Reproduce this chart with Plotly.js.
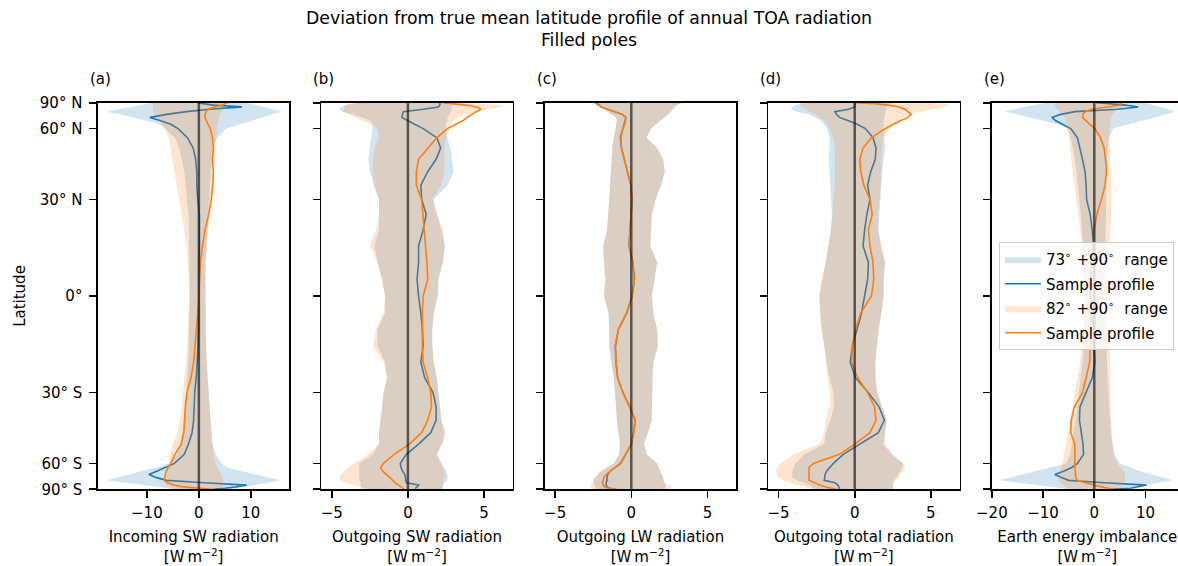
<!DOCTYPE html>
<html>
<head>
<meta charset="utf-8">
<script src="https://cdn.plot.ly/plotly-3.0.1.min.js"></script>
<style>
  html, body { margin: 0; padding: 0; overflow: hidden; background: #fff; }
  #chart { width: 1200px; height: 566px; }
</style>
</head>
<body>
<div id="chart"></div>
<script>
// Latitude nodes (degrees), south to north
const latitude = [
  -90, -87, -84, -81, -78, -75, -72.5, -70, -67.5, -65, -62.5, -60,
  -55, -50, -45, -40, -35, -30, -25, -20, -15, -10, -5, 0, 5, 10, 15, 20, 25, 30, 35, 40, 45, 50, 55,
  60, 62.5, 65, 67.5, 70, 72.5, 75, 78, 81, 84, 87, 90
];

const latTickValues = [-90, -60, -30, 0, 30, 60, 90];
const latTickLabels = ['90° S', '60° S', '30° S', '0°', '30° N', '60° N', '90° N'];

// (a) Incoming SW radiation
const incomingBlueLow = [
  -4.5, -5.0, -5.6, -7.8, -10.7, -14.7, -17.8, -15.8, -13.7, -11.2, -8.5, -5.5,
  -4.2, -3.6, -3.1, -2.8, -2.6, -2.4, -2.2, -2.0, -1.9, -1.9, -1.8, -1.8, -1.8, -1.8, -1.85, -1.9, -2.0, -2.3, -2.5, -2.8, -3.3, -3.8, -4.6,
  -6.5, -7.5, -10.0, -12.5, -15.3, -17.8, -15.5, -13.5, -12.0, -10.0, -9.5, -9.0
];
const incomingBlueHigh = [
  6.0, 6.5, 7.2, 8.7, 10.6, 13.4, 15.6, 13.3, 11.0, 8.3, 5.4, 4.4,
  3.3, 2.6, 2.4, 2.2, 2.0, 1.9, 1.7, 1.5, 1.4, 1.3, 1.3, 1.3, 1.3, 1.3, 1.4, 1.6, 1.8, 2.0, 2.1, 2.3, 2.5, 2.6, 3.5,
  5.3, 7.9, 10.2, 12.3, 14.2, 16.0, 14.3, 12.5, 11.0, 10.0, 9.5, 9.0
];
const incomingBlueSample = [
  2.8, 3.5, 5.0, 7.1, 9.2, 1.0, -6.2, -8.1, -9.6, -8.1, -6.5, -4.7,
  -2.8, -2.0, -1.3, -1.0, -0.9, -0.8, -0.5, -0.3, -0.15, -0.05, 0.0, 0.0, 0.05, 0.05, 0.1, 0.1, 0.1, -0.2, -0.4, -0.4, -0.6, -1.1, -2.2,
  -4.0, -5.3, -7.3, -9.4, -6.2, -2.4, 2.1, 8.3, 2.8, 0.2, 0.0, 0.0
];
const incomingOrangeLow = [
  -4.0, -4.5, -5.0, -5.7, -6.2, -6.4, -6.5, -6.5, -6.4, -6.2, -6.0, -5.8,
  -5.5, -5.0, -4.2, -3.6, -3.3, -3.1, -2.8, -2.5, -2.3, -2.1, -1.9, -1.8, -1.9, -2.1, -2.4, -2.8, -3.3, -3.8, -4.2, -4.6, -5.1, -5.4, -5.8,
  -6.5, -7.0, -7.5, -8.0, -8.5, -8.8, -8.8, -8.8, -8.8, -8.8, -8.8, -8.8
];
const incomingOrangeHigh = [
  3.5, 4.0, 4.4, 4.6, 4.8, 4.8, 4.7, 4.6, 4.4, 4.0, 3.6, 3.2,
  2.8, 2.6, 2.4, 2.2, 2.0, 1.9, 1.7, 1.5, 1.4, 1.3, 1.2, 1.2, 1.2, 1.3, 1.5, 1.8, 2.1, 2.5, 2.8, 2.9, 3.1, 3.2, 3.3,
  3.5, 3.6, 3.7, 3.9, 4.0, 4.3, 4.5, 4.8, 5.0, 5.2, 5.3, 5.3
];
const incomingOrangeSample = [
  2.5, 1.8, 0.2, -3.0, -4.8, -6.0, -6.7, -6.6, -6.5, -6.3, -5.9, -5.4,
  -4.6, -3.4, -2.9, -2.8, -2.6, -2.3, -1.5, -1.0, -0.7, -0.5, -0.2, 0.0, 0.1, 0.3, 0.7, 1.2, 1.9, 2.4, 2.7, 2.8, 2.6, 2.8, 2.6,
  2.2, 1.8, 1.4, 1.15, 1.2, 1.4, 1.8, 3.0, 4.5, 5.3, 5.5, 5.5
];

// (b) Outgoing SW radiation
const swBlueLow = [
  -3.1, -3.1, -3.1, -3.1, -3.1, -3.1, -3.2, -3.2, -3.2, -3.2, -3.2, -3.2,
  -2.3, -1.9, -1.9, -1.8, -1.7, -1.6, -1.35, -1.5, -2.0, -2.0, -1.5, -1.5, -1.7, -2.0, -2.2, -1.9, -1.9, -1.9, -2.2, -2.5, -2.6, -2.5, -2.4,
  -2.3, -2.3, -2.5, -3.0, -3.7, -4.3, -4.5, -4.4, -4.1, -3.7, -3.3, -3.0
];
const swBlueHigh = [
  2.3, 2.3, 2.3, 2.3, 2.3, 2.4, 2.6, 2.6, 2.6, 2.5, 2.4, 2.2,
  1.9, 2.2, 2.4, 2.2, 2.1, 2.0, 1.9, 1.7, 1.6, 1.6, 1.7, 2.0, 2.0, 2.3, 2.45, 2.2, 1.9, 1.7, 2.6, 3.0, 2.9, 2.8, 2.6,
  2.5, 2.5, 2.6, 2.6, 2.7, 2.8, 2.9, 2.9, 3.0, 3.0, 3.0, 3.0
];
const swBlueSample = [
  0.5, 0.5, 0.5, 0.6, 0.7, -0.1, -0.15, -0.15, -0.2, -0.35, -0.45, -0.5,
  -0.1, 0.7, 1.5, 1.85, 1.85, 1.65, 1.1, 0.85, 1.0, 0.95, 0.85, 0.7, 0.6, 0.7, 0.7, 1.0, 1.2, 0.9, 0.85, 1.3, 1.85, 2.15, 1.9,
  1.0, 0.45, 0.0, -0.4, -0.35, -0.3, 1.0, 2.0, 2.1, 2.1, 2.1, 2.1
];
const swOrangeLow = [
  -2.5, -2.6, -2.8, -3.1, -3.6, -4.1, -4.4, -4.5, -4.4, -4.2, -3.9, -3.5,
  -2.6, -1.9, -1.9, -1.8, -1.7, -1.6, -1.4, -1.6, -2.3, -2.1, -1.6, -1.5, -1.7, -2.0, -2.5, -2.1, -1.9, -1.9, -2.3, -2.3, -2.3, -2.2, -1.9,
  -2.0, -2.4, -3.0, -3.5, -3.9, -4.2, -4.2, -4.2, -4.1, -3.9, -3.6, -3.3
];
const swOrangeHigh = [
  2.2, 2.2, 2.3, 2.3, 2.3, 2.3, 2.3, 2.4, 2.4, 2.4, 2.3, 2.2,
  1.9, 2.3, 2.5, 2.2, 2.1, 2.0, 1.9, 1.7, 1.6, 1.6, 1.7, 1.9, 2.0, 2.3, 2.4, 2.3, 1.9, 1.6, 2.2, 2.4, 2.4, 2.4, 2.5,
  2.7, 2.8, 3.0, 3.3, 3.8, 4.5, 5.3, 6.3, 6.0, 5.0, 4.0, 3.0
];
const swOrangeSample = [
  -0.25, -0.3, -0.35, -0.45, -0.65, -0.85, -1.0, -1.2, -1.4, -1.65, -1.8, -1.6,
  -0.9, 0.1, 0.9, 1.3, 1.55, 1.5, 1.3, 1.0, 0.95, 0.95, 0.95, 1.0, 1.3, 1.25, 1.15, 1.05, 1.0, 0.9, 0.55, 0.55, 0.7, 1.3, 1.9,
  2.6, 3.1, 3.6, 3.9, 4.2, 4.5, 4.8, 4.5, 3.8, 3.0, 2.5, 2.3
];

// (c) Outgoing LW radiation
const lwBlueLow = [
  -2.3, -2.3, -2.3, -2.35, -2.4, -2.5, -2.5, -2.4, -2.2, -2.0, -1.6, -1.15,
  -0.8, -0.75, -0.85, -0.95, -1.0, -1.05, -1.15, -1.3, -1.45, -1.45, -1.5, -1.8, -1.7, -1.8, -1.85, -1.6, -1.5, -1.45, -1.4, -1.35, -1.3, -1.25, -1.15,
  -1.05, -1.0, -0.95, -1.0, -1.3, -1.6, -1.8, -2.0, -2.2, -2.35, -2.45, -2.5
];
const lwBlueHigh = [
  2.2, 2.2, 2.2, 2.25, 2.25, 2.2, 2.1, 2.1, 2.0, 1.9, 1.8, 1.7,
  1.0, 0.85, 1.1, 1.35, 1.35, 1.35, 1.4, 1.45, 1.75, 1.7, 1.45, 1.35, 1.55, 1.7, 1.25, 1.28, 1.35, 1.6, 1.95, 2.2, 2.1, 1.7, 1.0,
  1.3, 1.6, 1.9, 2.2, 2.4, 2.6, 2.75, 2.9, 3.0, 3.2, 3.3, 3.4
];
const lwBlueSample = [
  -1.0, -1.2, -1.45, -1.6, -1.65, -1.65, -1.6, -1.6, -1.55, -1.4, -1.07, -0.7,
  -0.37, 0.0, 0.15, 0.25, -0.1, -0.55, -0.9, -1.0, -1.05, -0.85, -0.3, 0.05, 0.2, 0.1, -0.15, -0.07, 0.02, 0.05, -0.03, -0.25, -0.5, -0.65, -0.72,
  -0.55, -0.44, -0.37, -0.35, -0.6, -1.07, -1.5, -2.0, -2.1, -2.2, -2.3, -2.35
];
const lwOrangeLow = [
  -2.7, -2.7, -2.7, -2.7, -2.65, -2.5, -2.5, -2.4, -2.2, -2.0, -1.6, -1.15,
  -0.8, -0.75, -0.85, -0.95, -1.0, -1.05, -1.15, -1.3, -1.45, -1.45, -1.5, -1.8, -1.7, -1.8, -1.85, -1.6, -1.5, -1.45, -1.4, -1.35, -1.3, -1.25, -1.15,
  -1.05, -1.0, -0.95, -1.0, -1.3, -1.6, -1.8, -2.0, -2.2, -2.35, -2.45, -2.5
];
const lwOrangeHigh = [
  2.6, 2.6, 2.6, 2.6, 2.4, 2.2, 2.1, 2.1, 2.0, 1.9, 1.8, 1.7,
  1.0, 0.85, 1.1, 1.35, 1.35, 1.35, 1.4, 1.45, 1.75, 1.7, 1.45, 1.35, 1.55, 1.7, 1.25, 1.28, 1.35, 1.6, 1.95, 2.2, 2.1, 1.7, 1.0,
  1.3, 1.6, 1.9, 2.2, 2.4, 2.6, 2.75, 2.9, 3.0, 3.2, 3.3, 3.4
];
const lwOrangeSample = [
  -0.95, -1.15, -1.5, -1.75, -1.85, -1.9, -1.87, -1.8, -1.65, -1.4, -1.07, -0.7,
  -0.37, 0.0, 0.15, 0.25, -0.1, -0.55, -0.9, -1.0, -1.05, -0.85, -0.3, 0.05, 0.2, 0.1, -0.15, -0.07, 0.02, 0.05, -0.03, -0.25, -0.5, -0.65, -0.68,
  -0.55, -0.44, -0.37, -0.35, -0.6, -1.07, -1.5, -2.0, -2.1, -2.2, -2.3, -2.35
];

// (d) Outgoing total radiation
const totalBlueLow = [
  -2.6, -2.6, -2.7, -2.8, -3.0, -3.4, -3.8, -4.1, -4.1, -4.1, -4.0, -3.9,
  -3.3, -2.0, -1.9, -1.6, -1.35, -1.4, -1.65, -1.85, -2.0, -2.15, -2.25, -2.3, -2.1, -1.9, -1.7, -1.55, -1.5, -1.55, -1.6, -1.65, -1.7, -1.65, -1.65,
  -1.8, -2.0, -2.2, -2.6, -3.0, -3.8, -4.2, -4.1, -3.9, -3.6, -3.3, -3.0
];
const totalBlueHigh = [
  2.5, 2.5, 2.5, 2.5, 2.5, 2.5, 2.6, 2.7, 2.85, 3.0, 3.1, 3.2,
  2.4, 1.9, 2.0, 2.1, 1.8, 1.45, 1.35, 1.35, 1.45, 1.55, 1.75, 1.9, 1.9, 2.0, 1.7, 1.55, 1.6, 1.7, 1.75, 1.8, 1.9, 2.0, 1.95,
  1.9, 1.9, 1.9, 1.95, 2.0, 2.0, 2.1, 2.1, 2.2, 2.3, 2.4, 2.5
];
const totalBlueSample = [
  -1.0, -1.0, -1.0, -1.05, -1.1, -1.3, -2.0, -1.97, -1.95, -1.85, -1.65, -1.4,
  -0.75, 0.35, 1.55, 1.95, 1.6, 0.9, 0.05, -0.3, -0.15, 0.15, 0.45, 0.65, 0.85, 0.9, 0.55, 0.65, 0.8, 1.0, 0.85, 1.05, 1.35, 1.4, 1.2,
  0.7, 0.2, -0.4, -1.0, -1.2, -1.3, -0.4, 0.0, 0.0, 0.0, 0.0, 0.0
];
const totalOrangeLow = [
  -2.7, -2.8, -3.0, -3.3, -3.8, -4.3, -4.7, -5.0, -5.1, -5.2, -5.1, -4.9,
  -4.0, -2.3, -2.0, -1.9, -1.65, -1.6, -1.8, -1.9, -2.0, -2.2, -2.3, -2.35, -2.2, -1.9, -1.75, -1.6, -1.45, -1.4, -1.3, -1.3, -1.3, -1.3, -1.4,
  -1.7, -1.8, -2.0, -2.3, -2.6, -3.0, -3.3, -3.5, -3.6, -3.6, -3.6, -3.5
];
const totalOrangeHigh = [
  2.5, 2.5, 2.5, 2.5, 2.6, 2.6, 2.7, 2.9, 3.0, 3.2, 3.3, 3.2,
  2.5, 2.0, 2.0, 2.1, 1.8, 1.5, 1.4, 1.35, 1.45, 1.6, 1.75, 1.9, 1.9, 2.0, 1.75, 1.55, 1.55, 1.65, 1.7, 1.75, 1.75, 1.8, 1.9,
  2.3, 2.6, 2.9, 3.2, 3.6, 4.3, 5.0, 6.0, 6.2, 5.8, 5.2, 4.5
];
const totalOrangeSample = [
  -1.2, -1.3, -1.5, -1.9, -2.3, -2.7, -3.0, -3.0, -3.0, -3.0, -3.0, -2.7,
  -1.0, 0.0, 1.0, 1.4, 1.3, 0.85, 0.2, -0.2, -0.15, 0.05, 0.4, 1.1, 1.25, 1.2, 1.0, 0.9, 1.15, 1.0, 0.6, 0.4, 0.33, 0.55, 1.1,
  2.0, 2.5, 3.0, 3.5, 3.7, 3.5, 3.3, 2.9, 2.2, 1.3, 0.5, 0.1
];

// (e) Earth energy imbalance
const imbalanceBlueLow = [
  -5.0, -5.5, -6.5, -8.0, -11.0, -15.0, -18.7, -16.5, -14.2, -11.5, -8.5, -5.5,
  -4.7, -4.4, -4.0, -3.7, -3.3, -3.0, -2.6, -2.3, -2.1, -2.0, -1.9, -1.8, -1.9, -2.0, -2.2, -2.4, -2.6, -2.9, -3.2, -3.5, -3.8, -4.2, -4.6,
  -5.2, -7.0, -10.0, -12.7, -15.0, -17.4, -15.5, -13.5, -12.0, -10.5, -10.0, -9.5
];
const imbalanceBlueHigh = [
  5.5, 6.0, 6.5, 7.5, 9.5, 12.5, 15.4, 13.5, 11.3, 9.0, 7.0, 5.0,
  3.9, 3.5, 3.2, 3.1, 3.0, 2.8, 2.6, 2.4, 2.3, 2.2, 2.1, 2.0, 2.0, 2.0, 2.1, 2.2, 2.3, 2.3, 2.3, 2.4, 2.5, 2.6, 2.8,
  3.7, 6.6, 9.5, 12.0, 14.0, 15.7, 14.5, 13.0, 11.5, 10.5, 10.0, 9.5
];
const imbalanceBlueSample = [
  3.0, 5.0, 7.1, 8.3, 10.2, 1.9, -5.0, -6.3, -7.7, -6.0, -4.4, -3.3,
  -2.1, -2.2, -2.6, -2.9, -2.8, -1.7, -0.4, 0.1, 0.0, -0.2, -0.5, -0.8, -0.85, -0.4, -0.2, -0.4, -0.8, -1.5, -1.6, -1.8, -2.3, -2.8, -3.3,
  -4.6, -6.0, -7.5, -8.3, -6.5, -3.8, 4.5, 8.6, 6.0, 3.0, 1.0, 0.3
];
const imbalanceOrangeLow = [
  -4.5, -4.8, -5.0, -5.5, -6.0, -6.6, -7.0, -7.0, -7.0, -6.8, -6.5, -6.2,
  -5.9, -5.5, -5.0, -4.6, -4.2, -3.8, -3.3, -2.8, -2.5, -2.2, -2.0, -1.8, -1.9, -2.1, -2.4, -2.8, -3.2, -3.6, -3.9, -4.2, -4.5, -4.7, -4.9,
  -5.1, -5.3, -5.5, -5.8, -6.2, -6.7, -7.2, -7.6, -7.8, -7.7, -7.5, -7.0
];
const imbalanceOrangeHigh = [
  5.0, 5.0, 5.0, 5.2, 5.5, 5.8, 6.0, 6.0, 6.0, 5.8, 5.2, 4.5,
  3.8, 3.6, 3.4, 3.3, 3.2, 3.1, 3.1, 3.1, 2.9, 2.7, 2.5, 2.4, 2.5, 2.7, 2.9, 3.1, 3.3, 3.4, 3.3, 3.2, 3.1, 3.1, 3.0,
  3.0, 3.1, 3.2, 3.3, 3.6, 4.0, 4.8, 5.5, 5.8, 5.6, 5.3, 5.0
];
const imbalanceOrangeSample = [
  3.7, 3.4, 2.8, 1.5, -0.2, -2.0, -3.4, -3.6, -3.7, -3.8, -3.8, -3.8,
  -3.8, -3.8, -4.6, -4.5, -3.9, -2.3, -1.6, -0.9, -0.8, -0.7, -0.6, -0.6, -0.5, -0.5, -0.3, 0.0, 0.5, 1.4, 2.1, 2.4, 2.2, 1.9, 1.2,
  0.1, -0.8, -1.6, -2.3, -2.2, -1.8, -0.5, 2.5, 5.0, 5.2, 5.3, 5.3
];

const panelTitles = ['Incoming SW radiation', 'Outgoing SW radiation', 'Outgoing LW radiation',
                     'Outgoing total radiation', 'Earth energy imbalance'];
const panelLetters = ['(a)', '(b)', '(c)', '(d)', '(e)'];
const unitLabel = '[W\u2009m<sup>\u22122</sup>]';
const rangeNames = ['73<sup>∘</sup> +90<sup>∘</sup>  range', '82<sup>∘</sup> +90<sup>∘</sup>  range'];
const sampleName = 'Sample profile';

const xTicks = [[-10, 0, 10], [-5, 0, 5], [-5, 0, 5], [-5, 0, 5], [-20, -10, 0, 10]];
const xRanges = [[-19.4, 17.4], [-5.68, 6.88], [-5.68, 6.88], [-5.68, 6.88], [-20.05, 17.3]];

const panels = [
  [incomingBlueLow, incomingBlueHigh, incomingBlueSample, incomingOrangeLow, incomingOrangeHigh, incomingOrangeSample],
  [swBlueLow, swBlueHigh, swBlueSample, swOrangeLow, swOrangeHigh, swOrangeSample],
  [lwBlueLow, lwBlueHigh, lwBlueSample, lwOrangeLow, lwOrangeHigh, lwOrangeSample],
  [totalBlueLow, totalBlueHigh, totalBlueSample, totalOrangeLow, totalOrangeHigh, totalOrangeSample],
  [imbalanceBlueLow, imbalanceBlueHigh, imbalanceBlueSample, imbalanceOrangeLow, imbalanceOrangeHigh, imbalanceOrangeSample]
];

// ---- drawing ----
const BLUE = '#1f77b4', ORANGE = '#ff7f0e';
const BLUE_FILL = 'rgba(31,119,180,0.2)', ORANGE_FILL = 'rgba(255,127,14,0.2)';
const FONT = 'DejaVu Sans, Verdana, sans-serif';
const FS = 15;

const toRad = Math.PI / 180;
const sinLat = latitude.map(l => Math.sin(l * toRad));
const sinLatLoop = sinLat.concat(sinLat.slice().reverse());

// page geometry in pixels
const W = 1200, H = 566;
const axLeft0 = 98, axStep = 223.4, axWidth = 191.3;
const axTop = 102.7, axBottom = 489.3;

const traces = [];
const layout = {
  width: W, height: H,
  margin: {l: 0, r: 0, t: 0, b: 0},
  paper_bgcolor: '#fff', plot_bgcolor: '#fff',
  font: {family: FONT, size: FS, color: '#000'},
  showlegend: true,
  title: {
    text: 'Deviation from true mean latitude profile of annual TOA radiation<br>Filled poles',
    x: 589 / W, xanchor: 'center', xref: 'paper',
    y: 1 - 24 / H, yanchor: 'top', yref: 'container',
    font: {family: FONT, size: 17.3, color: '#000'}
  },
  legend: {
    x: 999 / W, xanchor: 'left', y: 1 - 242 / H, yanchor: 'top',
    bgcolor: 'rgba(255,255,255,0.8)', bordercolor: '#cccccc', borderwidth: 1,
    font: {family: FONT, size: FS, color: '#000'},
    traceorder: 'grouped', tracegroupgap: 2, itemwidth: 36
  },
  shapes: [], annotations: []
};

panels.forEach((p, i) => {
  const n = i + 1;
  const xa = n === 1 ? 'x' : 'x' + n;
  const ya = n === 1 ? 'y' : 'y' + n;
  const last = i === panels.length - 1;
  const [bLo, bHi, bLine, oLo, oHi, oLine] = p;

  const band = (lo, hi, color, name, grp) => ({
    type: 'scatter', mode: 'lines', xaxis: xa, yaxis: ya,
    x: lo.concat(hi.slice().reverse()), y: sinLatLoop,
    fill: 'toself', fillcolor: color, line: {width: 0, color: color},
    name: name, legendgroup: grp, showlegend: last, hoverinfo: 'skip'
  });
  const profile = (vals, color, grp) => ({
    type: 'scatter', mode: 'lines', xaxis: xa, yaxis: ya,
    x: vals, y: sinLat, line: {color: color, width: 1.6},
    name: sampleName, legendgroup: grp, showlegend: last, hoverinfo: 'skip'
  });

  traces.push(band(bLo, bHi, BLUE_FILL, rangeNames[0], 'g1'));
  traces.push(profile(bLine, BLUE, 'g2'));
  traces.push(band(oLo, oHi, ORANGE_FILL, rangeNames[1], 'g3'));
  traces.push(profile(oLine, ORANGE, 'g4'));

  const left = axLeft0 + axStep * i;
  const axisKey = n === 1 ? 'xaxis' : 'xaxis' + n;
  const yKey = n === 1 ? 'yaxis' : 'yaxis' + n;

  layout[axisKey] = {
    domain: [left / W, (left + axWidth) / W],
    anchor: ya, range: xRanges[i],
    tickvals: xTicks[i],
    ticktext: xTicks[i].map(v => (v < 0 ? '\u2212' + Math.abs(v) : String(v))),
    ticks: 'outside', ticklen: 7, tickwidth: 1.6, tickcolor: '#000',
    ticklabelstandoff: 2,
    showline: true, mirror: true, linecolor: '#000', linewidth: 1.6,
    showgrid: false, zeroline: false, automargin: false,
    tickfont: {family: FONT, size: FS, color: '#000'},
    title: {text: panelTitles[i] + '<br>' + unitLabel, standoff: 17,
            font: {family: FONT, size: FS, color: '#000'}}
  };
  const yAxis = {
    domain: [1 - axBottom / H, 1 - axTop / H],
    anchor: xa, range: [-1, 1],
    tickvals: latTickValues.map(v => Math.sin(v * toRad)),
    ticktext: latTickLabels,
    showticklabels: n === 1,
    ticks: 'outside', ticklen: 7, tickwidth: 1.6, tickcolor: '#000',
    ticklabelstandoff: 4,
    showline: true, mirror: true, linecolor: '#000', linewidth: 1.6,
    showgrid: false, zeroline: false, automargin: false,
    tickfont: {family: FONT, size: FS, color: '#000'}
  };
  if (n === 1) {
    yAxis.title = {text: 'Latitude', standoff: 10, font: {family: FONT, size: FS, color: '#000'}};
  }
  layout[yKey] = yAxis;

  // zero reference line
  layout.shapes.push({
    type: 'line', xref: xa, yref: ya + ' domain', x0: 0, x1: 0, y0: 0, y1: 1,
    line: {color: 'rgba(0,0,0,0.6)', width: 2.5}, layer: 'above'
  });

  layout.annotations.push({
    text: panelLetters[i], xref: 'paper', yref: 'paper',
    x: (left - 10) / W, xanchor: 'left', y: 1 - 79 / H, yanchor: 'middle',
    showarrow: false, font: {family: FONT, size: FS, color: '#000'}
  });
});

Plotly.newPlot('chart', traces, layout, {staticPlot: true, displayModeBar: false});
</script>
</body>
</html>
